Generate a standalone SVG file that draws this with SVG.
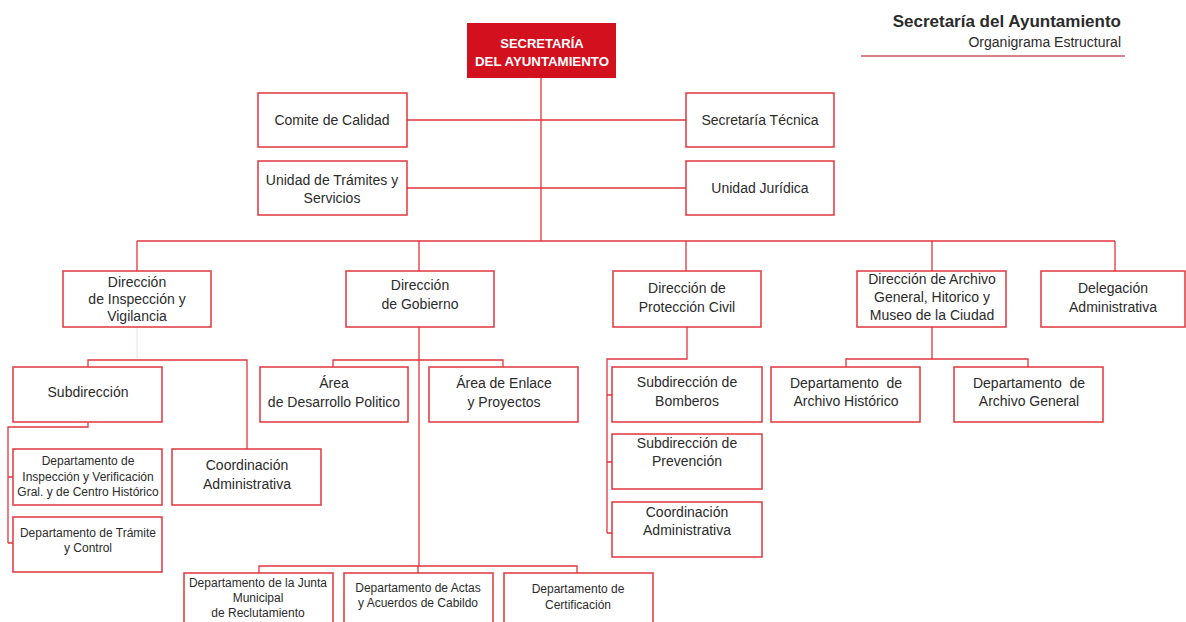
<svg xmlns="http://www.w3.org/2000/svg" width="1186" height="622" viewBox="0 0 1186 622">
<style>
.b{fill:#fff;stroke:#e0363c;stroke-width:1.5}
.c{fill:none;stroke:#e0363c;stroke-width:1.3}
.t{font-family:"Liberation Sans",Arial,sans-serif;font-size:14px;fill:#2b2b2b;text-anchor:middle}
.s{font-family:"Liberation Sans",Arial,sans-serif;font-size:12px;fill:#2b2b2b;text-anchor:middle}
</style>
<rect width="1186" height="622" fill="#fff"/>
<g id="header">
<text x="1121" y="27" font-family="Liberation Sans,Arial,sans-serif" font-size="17" font-weight="bold" fill="#2b2b2b" text-anchor="end">Secretaría del Ayuntamiento</text>
<text x="1121" y="47" font-family="Liberation Sans,Arial,sans-serif" font-size="14" fill="#2b2b2b" text-anchor="end">Organigrama Estructural</text>
<line x1="861" y1="56" x2="1125" y2="56" stroke="#d98484" stroke-width="2"/>
</g>
<g id="connectors">
<path class="c" d="M541 78V241M407 120H686M407 188H686M137 241H1115M137 241V271M419 241V271M686 241V271M932 241V271M1115 241V271"/>
<path d="M137 327V360" stroke="#f2e6e6" stroke-width="1.3" fill="none"/>
<path class="c" d="M88 367V360H247V449M88 422V427H8V543M8 477H13M8 543H13"/>
<path class="c" d="M419 327V566M333 367V360H503V367M259 573V566H577V573M418 566V573"/>
<path class="c" d="M687 327V359H607V533M607 395H612M607 462H612M607 533H612"/>
<path class="c" d="M932 327V359M846 367V359H1028V367"/>
</g>
<g id="secretaria">
<rect x="467" y="23" width="149" height="55" fill="#d3101e"/>
<text x="542" y="48" font-family="Liberation Sans,Arial,sans-serif" font-size="13" font-weight="bold" fill="#fff" text-anchor="middle">SECRETARÍA</text>
<text x="542" y="66" font-family="Liberation Sans,Arial,sans-serif" font-size="13" font-weight="bold" fill="#fff" text-anchor="middle" textLength="134" lengthAdjust="spacingAndGlyphs">DEL AYUNTAMIENTO</text>
</g>
<g id="comite"><rect class="b" x="258" y="93" width="149" height="54"/><text class="t" x="332" y="125">Comite de Calidad</text></g>
<g id="tecnica"><rect class="b" x="686" y="93" width="148" height="54"/><text class="t" x="760" y="125">Secretaría Técnica</text></g>
<g id="tramites"><rect class="b" x="258" y="161" width="149" height="54"/><text class="t" x="332" y="185">Unidad de Trámites y</text><text class="t" x="332" y="203">Servicios</text></g>
<g id="juridica"><rect class="b" x="686" y="161" width="148" height="54"/><text class="t" x="760" y="193">Unidad Jurídica</text></g>
<g id="dir-inspeccion"><rect class="b" x="63" y="271" width="148" height="56"/><text class="t" x="137" y="287">Dirección</text><text class="t" x="137" y="304">de Inspección y</text><text class="t" x="137" y="321">Vigilancia</text></g>
<g id="dir-gobierno"><rect class="b" x="346" y="271" width="148" height="56"/><text class="t" x="420" y="290">Dirección</text><text class="t" x="420" y="309">de Gobierno</text></g>
<g id="dir-proteccion"><rect class="b" x="613" y="271" width="148" height="56"/><text class="t" x="687" y="293">Dirección de</text><text class="t" x="687" y="312">Protección Civil</text></g>
<g id="dir-archivo"><rect class="b" x="857" y="271" width="149" height="56"/><text class="t" x="932" y="284">Dirección de Archivo</text><text class="t" x="932" y="302">General, Hitorico y</text><text class="t" x="932" y="320">Museo de la Ciudad</text></g>
<g id="delegacion"><rect class="b" x="1041" y="271" width="144" height="56"/><text class="t" x="1113" y="293">Delegación</text><text class="t" x="1113" y="312">Administrativa</text></g>
<g id="subdireccion"><rect class="b" x="13" y="367" width="149" height="55"/><text class="t" x="88" y="397">Subdirección</text></g>
<g id="dep-inspeccion"><rect class="b" x="13" y="449" width="149" height="56"/><text class="s" x="88" y="465">Departamento de</text><text class="s" x="88" y="481">Inspección y Verificación</text><text class="s" x="88" y="496">Gral. y de Centro Histórico</text></g>
<g id="dep-tramite"><rect class="b" x="13" y="517" width="149" height="55"/><text class="s" x="88" y="537">Departamento de Trámite</text><text class="s" x="88" y="552">y Control</text></g>
<g id="coord-admin-1"><rect class="b" x="172" y="449" width="149" height="56"/><text class="t" x="247" y="470">Coordinación</text><text class="t" x="247" y="489">Administrativa</text></g>
<g id="area-desarrollo"><rect class="b" x="260" y="367" width="148" height="55"/><text class="t" x="334" y="388">Área</text><text class="t" x="334" y="407">de Desarrollo Politico</text></g>
<g id="area-enlace"><rect class="b" x="429" y="367" width="149" height="55"/><text class="t" x="504" y="388">Área de Enlace</text><text class="t" x="504" y="407">y Proyectos</text></g>
<g id="dep-junta"><rect class="b" x="184" y="573" width="149" height="56"/><text class="s" x="258" y="587">Departamento de la Junta</text><text class="s" x="258" y="602">Municipal</text><text class="s" x="258" y="617">de Reclutamiento</text></g>
<g id="dep-actas"><rect class="b" x="344" y="573" width="149" height="56"/><text class="s" x="418" y="592">Departamento de Actas</text><text class="s" x="418" y="607">y Acuerdos de Cabildo</text></g>
<g id="dep-certificacion"><rect class="b" x="504" y="573" width="149" height="56"/><text class="s" x="578" y="593">Departamento de</text><text class="s" x="578" y="609">Certificación</text></g>
<g id="sub-bomberos"><rect class="b" x="612" y="367" width="150" height="55"/><text class="t" x="687" y="387">Subdirección de</text><text class="t" x="687" y="406">Bomberos</text></g>
<g id="sub-prevencion"><rect class="b" x="612" y="434" width="150" height="55"/><text class="t" x="687" y="448">Subdirección de</text><text class="t" x="687" y="466">Prevención</text></g>
<g id="coord-admin-2"><rect class="b" x="612" y="502" width="150" height="55"/><text class="t" x="687" y="517">Coordinación</text><text class="t" x="687" y="535">Administrativa</text></g>
<g id="dep-historico"><rect class="b" x="771" y="367" width="149" height="55"/><text class="t" x="846" y="388" xml:space="preserve">Departamento  de</text><text class="t" x="846" y="406">Archivo Histórico</text></g>
<g id="dep-general"><rect class="b" x="954" y="367" width="149" height="55"/><text class="t" x="1029" y="388" xml:space="preserve">Departamento  de</text><text class="t" x="1029" y="406">Archivo General</text></g>
</svg>
